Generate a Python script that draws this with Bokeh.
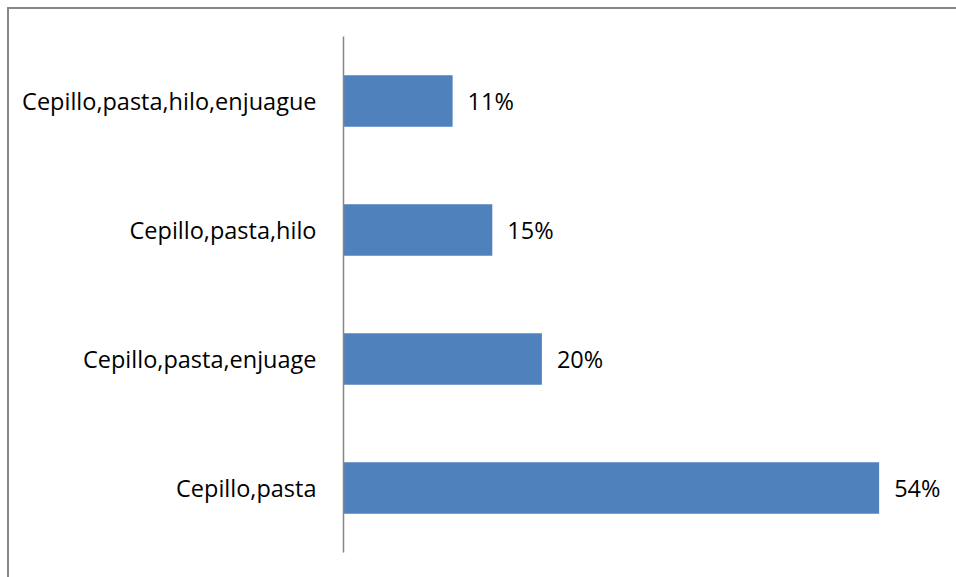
from bokeh.plotting import figure
from bokeh.models import ColumnDataSource
from bokeh.core.properties import value
from bokeh.embed import file_html
from bokeh.resources import INLINE

categories = ["Cepillo,pasta", "Cepillo,pasta,enjuage", "Cepillo,pasta,hilo", "Cepillo,pasta,hilo,enjuague"]
percent = [54, 20, 15, 11]
labels = ["54%", "20%", "15%", "11%"]

FONT = "Open Sans"
src = ColumnDataSource(dict(cat=categories, val=percent, lab=labels))

p = figure(width=949, height=570, y_range=categories, x_range=(0, 62.0),
           output_backend="svg", toolbar_location=None,
           min_border_left=334, min_border_right=0, min_border_top=27, min_border_bottom=27)
p.margin = (7, 0, 0, 7)
p.styles = {"border-left": "2px solid #878787", "border-top": "2px solid #878787"}
p.outline_line_color = None
p.xaxis.visible = False
p.xgrid.visible = False
p.ygrid.visible = False
p.hbar(y="cat", right="val", left=0, height=0.4, source=src, fill_color="#4F81BD", line_color=None)
p.text(x="val", y="cat", text="lab", source=src, x_offset=15, text_align="left", text_baseline="middle",
       text_font=value(FONT), text_font_size="23.5px", text_color="#000000")

ax = p.yaxis[0]
ax.axis_line_color = "#868686"
ax.axis_line_width = 1.5
ax.major_tick_line_color = None
ax.minor_tick_line_color = None
ax.major_tick_out = 0
ax.major_tick_in = 0
ax.major_label_standoff = 27
ax.major_label_text_font = FONT
ax.major_label_text_font_size = "23.5px"
ax.major_label_text_color = "#000000"

open("out.html", "w").write(file_html(p, INLINE))
